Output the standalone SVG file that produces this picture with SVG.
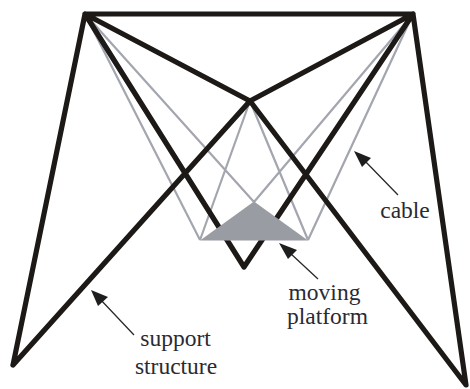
<svg xmlns="http://www.w3.org/2000/svg" width="470" height="389" viewBox="0 0 470 389">
<style>
.s{fill:none;stroke:#1c1917;stroke-width:5.2;stroke-linecap:round;stroke-linejoin:round}
.c{fill:none;stroke:#a3a6ae;stroke-width:2.2}
.a{fill:none;stroke:#2a2a2a;stroke-width:1.3}
.h{fill:#1e1e1e}
text{font-family:"Liberation Serif","Times New Roman",serif;font-size:23.500px;fill:#2a2a33;text-anchor:middle}
</style>
<rect width="470" height="389" fill="#fff"/>
<g id="cables">
<path class="c" d="M85 14L200 240M85 14L254 202M413 14L308 240M413 14L254 202M250 101L200 240M250 101L308 240"/>
</g>
<g id="support-structure">
<path class="s" d="M13 365L85 14H413L466 385L250 101L13 365M85 14L250 101L413 14M85 14L244 267L413 14"/>
</g>
<g id="moving-platform">
<polygon points="200,240.500 254,201.500 308,240.500" fill="#9a9ca4"/>
</g>
<g id="connectors">
<path class="a" d="M134 335L100 299M398 195L364 160M318 279L290 253"/>
<polygon class="h" points="91,290 108,297 98,306"/>
<polygon class="h" points="354,151 371,158 362,167"/>
<polygon class="h" points="279,243 297,250 288,259"/>
</g>
<g id="labels">
<text x="175.500" y="346">support</text>
<text x="176" y="373.500">structure</text>
<text x="405" y="218">cable</text>
<text x="324.500" y="299.500">moving</text>
<text x="327.500" y="323.500">platform</text>
</g>
</svg>
